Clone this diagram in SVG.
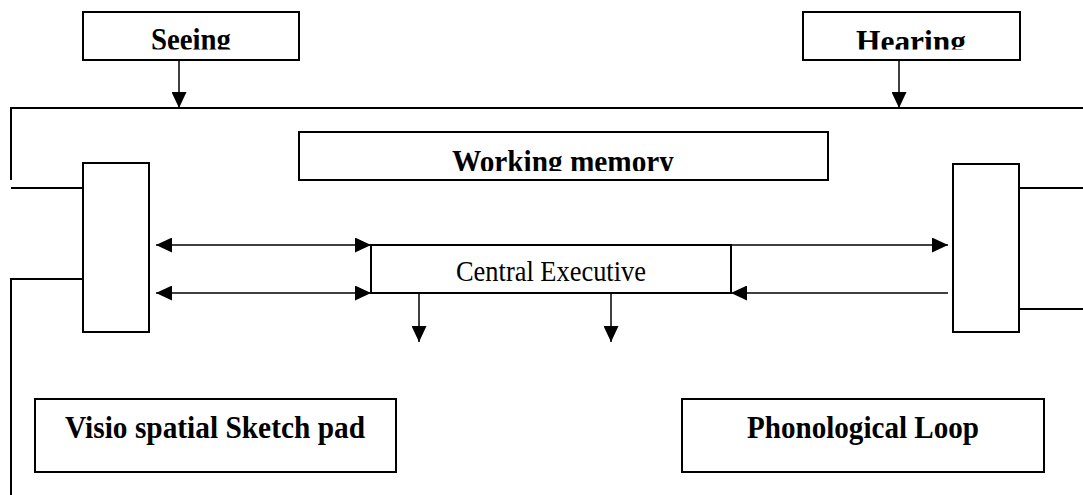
<svg xmlns="http://www.w3.org/2000/svg" width="1083" height="495" viewBox="0 0 1083 495">
  <style>
    .box { fill: #fff; stroke: #000; stroke-width: 2; }
    .wire { fill: none; stroke: #000; stroke-width: 2; }
    .arrow { fill: none; stroke: #000; stroke-width: 1.5; }
    .bold { font-family: "Liberation Serif", "Times New Roman", serif; font-weight: bold; font-size: 31.5px; fill: #000; }
    .plain { font-family: "Liberation Serif", "Times New Roman", serif; font-size: 29px; fill: #000; }
  </style>
  <defs>
    <marker id="head" markerUnits="userSpaceOnUse" markerWidth="16" markerHeight="15" refX="16" refY="7.5" orient="auto-start-reverse" viewBox="0 0 16 15">
      <path d="M0,0 L16,7.5 L0,15 z" fill="#000"/>
    </marker>
    <clipPath id="clipSeeing"><rect x="83" y="12" width="216" height="37.5"/></clipPath>
    <clipPath id="clipHearing"><rect x="803" y="12" width="217" height="37.5"/></clipPath>
    <clipPath id="clipWM"><rect x="299" y="132" width="529" height="39"/></clipPath>
  </defs>

  <!-- connectors -->
  <g id="connectors">
    <!-- inputs into the frame -->
    <line class="arrow" x1="179" y1="60" x2="179" y2="108" marker-end="url(#head)"/>
    <line class="arrow" x1="899" y1="60" x2="899" y2="108" marker-end="url(#head)"/>
    <!-- outer frame -->
    <polyline class="wire" points="11,180 11,108 1083,108"/>
    <line class="wire" x1="11" y1="188" x2="83" y2="188"/>
    <polyline class="wire" points="83,279 11,279 11,495"/>
    <line class="wire" x1="1019" y1="188" x2="1083" y2="188"/>
    <line class="wire" x1="1019" y1="309" x2="1083" y2="309"/>
    <!-- left slave system <-> central executive -->
    <line class="arrow" x1="156" y1="245" x2="371" y2="245" marker-start="url(#head)" marker-end="url(#head)"/>
    <line class="arrow" x1="156" y1="293" x2="371" y2="293" marker-start="url(#head)" marker-end="url(#head)"/>
    <!-- central executive <-> right slave system -->
    <line class="arrow" x1="731" y1="245" x2="948" y2="245" marker-end="url(#head)"/>
    <line class="arrow" x1="948" y1="293" x2="731" y2="293" marker-end="url(#head)"/>
    <!-- outputs below central executive -->
    <line class="arrow" x1="419" y1="293" x2="419" y2="342" marker-end="url(#head)"/>
    <line class="arrow" x1="611" y1="293" x2="611" y2="342" marker-end="url(#head)"/>
  </g>

  <g id="seeing">
    <rect class="box" x="83" y="12" width="216" height="48"/>
    <text class="bold" x="191" y="50" text-anchor="middle" textLength="80" lengthAdjust="spacingAndGlyphs" clip-path="url(#clipSeeing)">Seeing</text>
  </g>

  <g id="hearing">
    <rect class="box" x="803" y="12" width="217" height="48"/>
    <text class="bold" x="911" y="51.5" text-anchor="middle" textLength="110" lengthAdjust="spacingAndGlyphs" clip-path="url(#clipHearing)">Hearing</text>
  </g>

  <g id="working-memory">
    <rect class="box" x="299" y="132" width="529" height="48"/>
    <text class="bold" x="563" y="172" text-anchor="middle" textLength="222" lengthAdjust="spacingAndGlyphs" clip-path="url(#clipWM)">Working memory</text>
  </g>

  <g id="left-store">
    <rect class="box" x="83" y="163" width="66" height="169"/>
  </g>

  <g id="right-store">
    <rect class="box" x="953" y="164" width="66" height="168"/>
  </g>

  <g id="central-executive">
    <rect class="box" x="371" y="245" width="360" height="48"/>
    <text class="plain" x="551" y="281" text-anchor="middle" textLength="190" lengthAdjust="spacingAndGlyphs">Central Executive</text>
  </g>

  <g id="sketch-pad">
    <rect class="box" x="35" y="399" width="361" height="73"/>
    <text class="bold" x="215" y="438" text-anchor="middle" textLength="300" lengthAdjust="spacingAndGlyphs">Visio spatial Sketch pad</text>
  </g>

  <g id="phonological-loop">
    <rect class="box" x="682" y="399" width="362" height="73"/>
    <text class="bold" x="863" y="438" text-anchor="middle" textLength="232" lengthAdjust="spacingAndGlyphs">Phonological Loop</text>
  </g>
</svg>
